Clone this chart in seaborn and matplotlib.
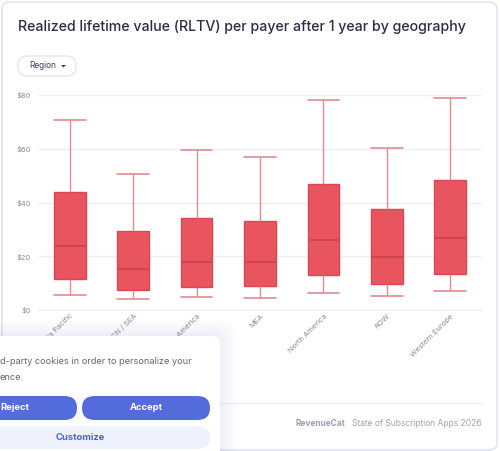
import matplotlib
matplotlib.use("Agg")
import matplotlib.pyplot as plt
from matplotlib.patches import FancyBboxPatch, Polygon
import seaborn as sns
import pandas as pd

# ---- data ----
regions = ["Asia Pacific", "CN / SEA", "Latin America", "MEA",
           "North America", "ROW", "Western Europe"]
whisker_low = [5.7, 4.1, 4.7, 4.6, 6.5, 5.3, 6.9]
q1 = [11.5, 7.6, 8.7, 8.8, 12.9, 9.8, 13.3]
median = [23.9, 15.3, 18.0, 17.8, 26.0, 19.6, 26.7]
q3 = [43.8, 29.4, 34.2, 33.0, 46.8, 37.5, 48.2]
whisker_high = [70.7, 50.5, 59.7, 57.1, 78.1, 60.3, 78.8]
y_ticks = [0, 20, 40, 60, 80]
y_tick_labels = ["$0", "$20", "$40", "$60", "$80"]

rows = []
for i, r in enumerate(regions):
    for v in (whisker_low[i], q1[i], median[i], q3[i], whisker_high[i]):
        rows.append({"region": r, "rltv": v})
df = pd.DataFrame(rows)

W, H = 500, 451
sns.set_theme(style="white")
plt.rcParams["font.family"] = ["Inter", "DejaVu Sans"]

fig = plt.figure(figsize=(W / 100, H / 100), dpi=100)
fig.patch.set_facecolor("white")


def fx(x):
    return x / W


def fy(y):
    return 1 - y / H


# card border
fig.patches.append(FancyBboxPatch((fx(2), fy(450)), fx(495), 448 / H,
                                  boxstyle="round,pad=0,rounding_size=0.016",
                                  transform=fig.transFigure, facecolor="none",
                                  edgecolor="#e1e4f6", linewidth=1.2, zorder=0))

ax = fig.add_axes([fx(38), fy(310), fx(482) - fx(38), fy(95) - fy(310)])
ax.set_facecolor("none")

box_color = "#E8555F"
edge_color = "#D94753"
sns.boxplot(data=df, x="region", y="rltv", order=regions, ax=ax,
            whis=(0, 100), width=0.5, color=box_color, saturation=1,
            linecolor=edge_color, linewidth=1.0, showfliers=False,
            capwidths=0.5,
            whiskerprops=dict(color="#E38A92", linewidth=1.0),
            capprops=dict(color="#E38A92", linewidth=1.2),
            medianprops=dict(color="#CC4350", linewidth=1.3),
            boxprops=dict(edgecolor=edge_color, facecolor=box_color))

ax.set_ylim(0, 80)
ax.set_xlim(-0.5, len(regions) - 0.5)
ax.set_yticks(y_ticks)
ax.set_yticklabels(y_tick_labels)
ax.yaxis.grid(True, color="#eeeef3", linewidth=1.0)
ax.set_axisbelow(True)
for s in ax.spines.values():
    s.set_visible(False)
ax.set_xlabel("")
ax.set_ylabel("")
ax.tick_params(axis="y", length=0, pad=5, labelsize=5.4, labelcolor="#8a8a9e")
ax.tick_params(axis="x", length=0, pad=2, labelsize=5.4, labelcolor="#8a8a9e")
for lbl in ax.get_xticklabels():
    lbl.set_rotation(45)
    lbl.set_ha("right")
    lbl.set_va("top")
    lbl.set_rotation_mode("anchor")
# $0 baseline gridline
ax.axhline(0, color="#eeeef3", linewidth=1.0, zorder=0, clip_on=False)

# title
fig.text(fx(18), fy(27), "Realized lifetime value (RLTV) per payer after 1 year by geography",
         fontsize=10.2, color="#2b2d48", fontweight="medium", va="center", ha="left")

# Region dropdown
fig.patches.append(FancyBboxPatch((fx(18), fy(76)), fx(58), 20 / H,
                                  boxstyle="round,pad=0,rounding_size=0.02",
                                  transform=fig.transFigure, facecolor="white",
                                  edgecolor="#e3e3ea", linewidth=0.9))
fig.text(fx(29), fy(66), "Region", fontsize=6.0, color="#3c3d55", va="center", ha="left")
fig.patches.append(Polygon([(fx(61), fy(65)), (fx(66), fy(65)), (fx(63.5), fy(67.5))],
                           closed=True, transform=fig.transFigure,
                           facecolor="#3c3d55", edgecolor="none"))

# footer
fig.add_artist(plt.Line2D([fx(18), fx(482)], [fy(403), fy(403)],
                          transform=fig.transFigure, color="#ececf2", linewidth=0.9))
fig.text(fx(295), fy(424), "RevenueCat", fontsize=6.0, color="#9d9daf",
         fontweight="bold", va="center", ha="left")
fig.text(fx(482), fy(424), "State of Subscription Apps 2026", fontsize=6.1,
         color="#a3a3b3", va="center", ha="right")

# cookie banner overlay (soft shadow)
for i in range(8):
    pad = 16 - 2 * i
    fig.patches.append(FancyBboxPatch((fx(-20 - pad), fy(470)), fx(240 + 2 * pad), (134 + pad) / H,
                                      boxstyle="round,pad=0,rounding_size=0.03",
                                      transform=fig.transFigure, facecolor="#50508a",
                                      alpha=0.008, edgecolor="none", zorder=5))
fig.patches.append(FancyBboxPatch((fx(-20), fy(470)), fx(240), 134 / H,
                                  boxstyle="round,pad=0,rounding_size=0.016",
                                  transform=fig.transFigure, facecolor="white",
                                  edgecolor="none", zorder=6))
fig.text(fx(0), fy(362), "d-party cookies in order to personalize your", fontsize=6.6,
         color="#64657c", va="center", ha="left", zorder=7)
fig.text(fx(0), fy(377), "ence.", fontsize=6.6, color="#64657c", va="center", ha="left", zorder=7)
btn_blue = "#546BDB"
fig.patches.append(FancyBboxPatch((fx(-40), fy(420)), fx(117), 24 / H,
                                  boxstyle="round,pad=0,rounding_size=0.026",
                                  transform=fig.transFigure, facecolor=btn_blue,
                                  edgecolor="none", zorder=7))
fig.patches.append(FancyBboxPatch((fx(82), fy(420)), fx(128), 24 / H,
                                  boxstyle="round,pad=0,rounding_size=0.026",
                                  transform=fig.transFigure, facecolor=btn_blue,
                                  edgecolor="none", zorder=7))
fig.patches.append(FancyBboxPatch((fx(-40), fy(449)), fx(250), 23 / H,
                                  boxstyle="round,pad=0,rounding_size=0.026",
                                  transform=fig.transFigure, facecolor="#EFF1FC",
                                  edgecolor="none", zorder=7))
fig.text(fx(0), fy(408), "Reject", fontsize=6.8, color="white", fontweight="bold",
         va="center", ha="left", zorder=8)
fig.text(fx(146), fy(408), "Accept", fontsize=6.8, color="white", fontweight="bold",
         va="center", ha="center", zorder=8)
fig.text(fx(80), fy(437), "Customize", fontsize=6.8, color="#4C63D6", fontweight="bold",
         va="center", ha="center", zorder=8)

fig.savefig("out.png", dpi=100)
